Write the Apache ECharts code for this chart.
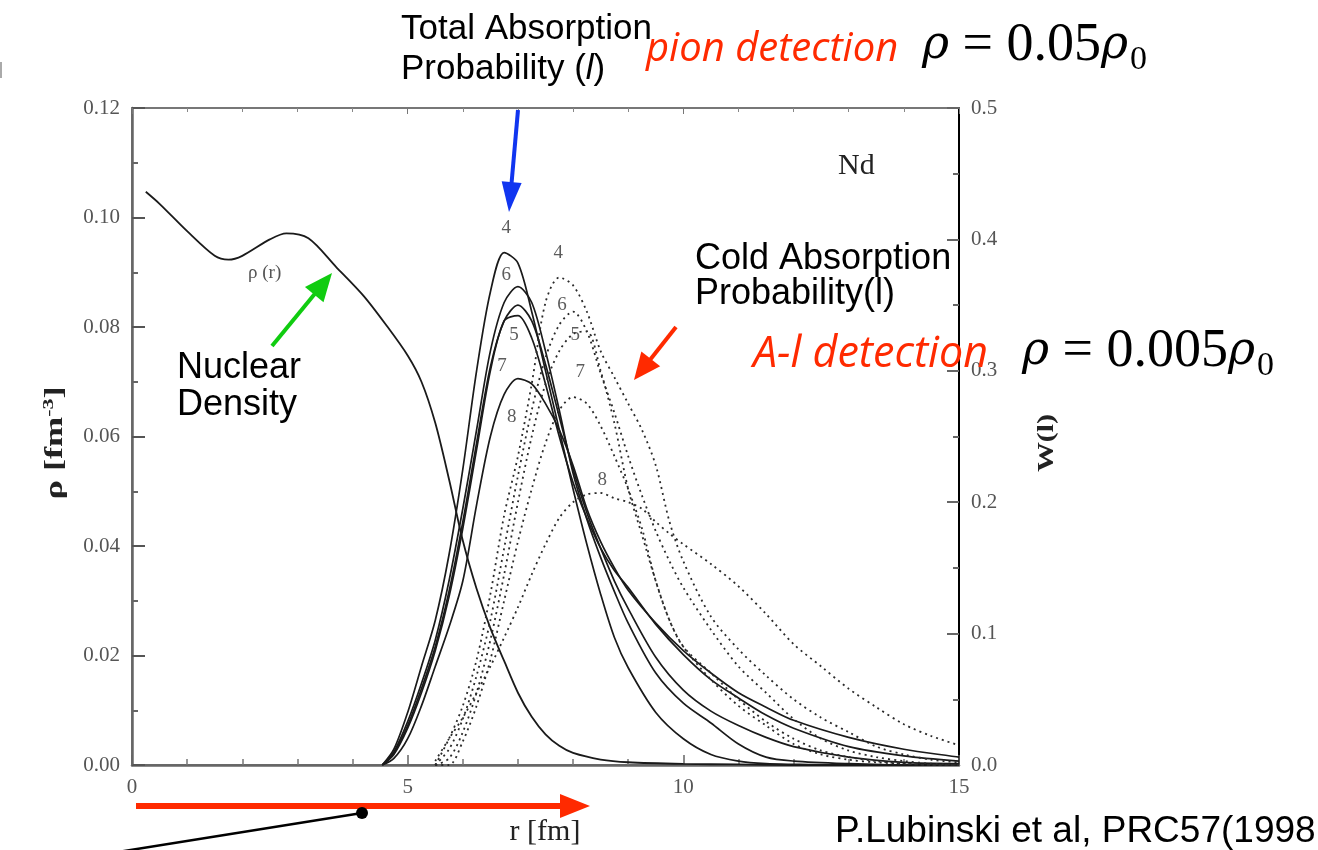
<!DOCTYPE html>
<html>
<head>
<meta charset="utf-8">
<script src="https://cdn.jsdelivr.net/npm/echarts@6/dist/echarts.min.js"></script>
<style>
html,body{margin:0;padding:0;background:#fff;}
#chart{width:1318px;height:850px;}
</style>
</head>
<body>
<div id="chart"></div>
<script>
// ---- data ----
const X_TICKS = [0, 5, 10, 15];
const RHO_TICKS = [0.00, 0.02, 0.04, 0.06, 0.08, 0.10, 0.12];
const W_TICKS = [0.0, 0.1, 0.2, 0.3, 0.4, 0.5];

// nuclear density rho(r) [fm^-3]
const R_DENS = [0.25, 0.5, 1.0, 1.5, 1.75, 2.0, 2.5, 2.8, 3.2, 3.7, 4.2, 4.6, 5.0, 5.25, 5.5, 5.75, 6.0, 6.25, 6.5, 6.75, 7.0, 7.25, 7.5, 7.75, 8.0, 8.5, 9.0, 10, 11, 12, 13, 14, 15];
const RHO = [0.1047, 0.1025, 0.0975, 0.0930, 0.0923, 0.0930, 0.0960, 0.0971, 0.0962, 0.0910, 0.0857, 0.0805, 0.0748, 0.0700, 0.0625, 0.0522, 0.0410, 0.0322, 0.0250, 0.0190, 0.0132, 0.0088, 0.0056, 0.0035, 0.0022, 0.0010, 0.0005, 0.0002, 0.0001, 0, 0, 0, 0];

// total absorption probability W(l)
const R_TOTAL = [4.54, 4.75, 5, 5.25, 5.5, 5.75, 6, 6.25, 6.5, 6.75, 7, 7.25, 7.5, 7.75, 8, 8.25, 8.5, 8.75, 9, 9.5, 10, 10.5, 11, 11.5, 12, 13, 14, 15];
const W_TOT_4 = [0, 0.012, 0.04, 0.075, 0.11, 0.16, 0.225, 0.30, 0.36, 0.39, 0.382, 0.345, 0.30, 0.255, 0.21, 0.168, 0.13, 0.097, 0.074, 0.04, 0.02, 0.008, 0.003, 0.001, 0.0005, 0, 0, 0];
const W_TOT_6 = [0, 0.01, 0.033, 0.062, 0.095, 0.14, 0.195, 0.255, 0.315, 0.352, 0.364, 0.352, 0.315, 0.27, 0.222, 0.187, 0.158, 0.132, 0.108, 0.07, 0.047, 0.032, 0.016, 0.006, 0.003, 0.001, 0, 0];
const W_TOT_5 = [0, 0.009, 0.03, 0.058, 0.09, 0.132, 0.185, 0.245, 0.303, 0.338, 0.35, 0.338, 0.305, 0.265, 0.225, 0.192, 0.165, 0.14, 0.119, 0.082, 0.057, 0.041, 0.03, 0.021, 0.014, 0.006, 0.002, 0.001];
const W_TOT_7 = [0, 0.008, 0.028, 0.055, 0.087, 0.128, 0.18, 0.24, 0.30, 0.338, 0.342, 0.325, 0.29, 0.25, 0.215, 0.188, 0.165, 0.148, 0.135, 0.107, 0.084, 0.065, 0.051, 0.038, 0.028, 0.014, 0.007, 0.003];
const W_TOT_8 = [0, 0.005, 0.02, 0.045, 0.075, 0.105, 0.14, 0.198, 0.25, 0.282, 0.294, 0.29, 0.275, 0.255, 0.228, 0.195, 0.17, 0.15, 0.133, 0.108, 0.087, 0.07, 0.055, 0.044, 0.034, 0.021, 0.012, 0.006];

// cold absorption probability W(l)
const R_COLD = [5.5, 5.75, 6, 6.25, 6.5, 6.75, 7, 7.25, 7.5, 7.75, 8, 8.25, 8.5, 8.75, 9, 9.25, 9.5, 9.75, 10, 10.5, 11, 11.5, 12, 12.5, 13, 13.5, 14, 14.5, 15];
const W_COLD_4 = [0, 0.02, 0.045, 0.08, 0.13, 0.19, 0.235, 0.29, 0.352, 0.371, 0.365, 0.345, 0.315, 0.295, 0.275, 0.255, 0.228, 0.185, 0.155, 0.113, 0.088, 0.068, 0.05, 0.036, 0.025, 0.014, 0.008, 0.004, 0.002];
const W_COLD_6 = [0, 0.012, 0.035, 0.068, 0.11, 0.165, 0.22, 0.27, 0.31, 0.335, 0.345, 0.33, 0.298, 0.268, 0.235, 0.205, 0.178, 0.155, 0.135, 0.103, 0.075, 0.055, 0.035, 0.02, 0.011, 0.006, 0.003, 0.001, 0];
const W_COLD_5 = [0, 0.005, 0.025, 0.055, 0.095, 0.145, 0.2, 0.25, 0.29, 0.315, 0.328, 0.33, 0.3, 0.26, 0.21, 0.175, 0.14, 0.11, 0.09, 0.065, 0.045, 0.03, 0.016, 0.008, 0.004, 0.002, 0.001, 0, 0];
const W_COLD_7 = [0, 0, 0.018, 0.045, 0.08, 0.125, 0.17, 0.21, 0.245, 0.27, 0.28, 0.275, 0.258, 0.235, 0.21, 0.18, 0.14, 0.11, 0.09, 0.07, 0.05, 0.033, 0.02, 0.011, 0.006, 0.003, 0.001, 0, 0];
const W_COLD_8 = [0.003, 0.02, 0.036, 0.055, 0.075, 0.097, 0.12, 0.145, 0.168, 0.188, 0.2, 0.206, 0.207, 0.203, 0.2, 0.195, 0.185, 0.176, 0.168, 0.153, 0.136, 0.115, 0.092, 0.075, 0.058, 0.044, 0.031, 0.022, 0.015];

// curve labels (l values) and where they sit [r, W]
const TOT_LABELS = ['4', '6', '5', '7', '8'];
const TOT_LABEL_POS = [[6.79, 0.409], [6.79, 0.373], [6.93, 0.327], [6.71, 0.304], [6.89, 0.265]];
const COLD_LABELS = ['4', '6', '5', '7', '8'];
const COLD_LABEL_POS = [[7.73, 0.39], [7.80, 0.35], [8.04, 0.327], [8.13, 0.299], [8.53, 0.217]];

// ---- chart ----
const zip = (xs, ys) => xs.map((x, i) => [x, ys[i]]);
const SERIF = '"Liberation Serif", "DejaVu Serif", serif';
const SANS = '"Liberation Sans", Arial, sans-serif';

function solid(data) {
  return { type: 'line', yAxisIndex: 1, data: data, showSymbol: false, smooth: 0.3,
    lineStyle: { color: '#1a1a1a', width: 1.7 }, silent: true, z: 3 };
}
function dotted(data) {
  return { type: 'line', yAxisIndex: 1, data: data, showSymbol: false, smooth: 0.3,
    lineStyle: { color: '#2a2a2a', width: 1.8, type: [2, 4] }, silent: true, z: 3 };
}
function labelSeries(names, pos) {
  return { type: 'scatter', yAxisIndex: 1, symbolSize: 0, silent: true, z: 5,
    data: pos.map((p, i) => ({ value: p, name: names[i] })),
    label: { show: true, position: 'inside', formatter: '{b}', color: '#333', fontFamily: SERIF, fontSize: 19 } };
}

function arrow(x1, y1, x2, y2, color, w, hl, hw) {
  const a = Math.atan2(y2 - y1, x2 - x1);
  const dx = Math.cos(a), dy = Math.sin(a);
  const bx = x2 - dx * hl, by = y2 - dy * hl;
  const px = -dy, py = dx;
  return [
    { type: 'line', shape: { x1: x1, y1: y1, x2: bx + dx * 2, y2: by + dy * 2 }, style: { stroke: color, lineWidth: w }, z: 20 },
    { type: 'polygon', shape: { points: [[x2, y2], [bx + px * hw / 2, by + py * hw / 2], [bx - px * hw / 2, by - py * hw / 2]] }, style: { fill: color }, z: 20 }
  ];
}
function txt(x, y, text, opts, extra) {
  return Object.assign({ type: 'text', x: x, y: y, z: 30,
    style: Object.assign({ text: text, fill: '#000', fontFamily: SANS, fontSize: 35, align: 'left', verticalAlign: 'middle' }, opts || {}) }, extra || {});
}
const mathRich = {
  r: { fontFamily: '"DejaVu Serif", serif', fontStyle: 'italic', fontSize: 46, fill: '#000' },
  n: { fontFamily: '"Liberation Serif", serif', fontSize: 54, fill: '#000' },
  s: { fontFamily: '"Liberation Serif", serif', fontSize: 34, fill: '#000', padding: [28, 0, 0, 2] }
};

const RED = '#ff2a00';
const graphics = [].concat(
  [
    txt(401, 29, 'Total Absorption', { fontSize: 35 }),
    txt(401, 69, '{a|Probability (}{i|l}{a|)}', { rich: { a: { fontFamily: SANS, fontSize: 35 }, i: { fontFamily: SANS, fontSize: 35, fontStyle: 'italic' } } }),
    txt(646, 50, 'pion detection', { fill: RED, fontFamily: '"Open Sans", sans-serif', fontStyle: 'italic', fontSize: 40 }),
    txt(922, 46, '{r|ρ}{n| = 0.05}{r|ρ}{s|0}', { rich: mathRich }),
    txt(838, 166, 'Nd', { fontFamily: SERIF, fontSize: 30, fill: '#222' }),
    txt(695, 259, 'Cold Absorption', { fontSize: 36 }),
    txt(695, 294, 'Probability(l)', { fontSize: 36 }),
    txt(753, 355, 'A-l detection', { fill: RED, fontFamily: '"Open Sans", sans-serif', fontStyle: 'italic', fontSize: 43 }),
    txt(1022, 352, '{r|ρ}{n| = 0.005}{r|ρ}{s|0}', { rich: mathRich }),
    txt(177, 368, 'Nuclear', { fontSize: 36 }),
    txt(177, 405, 'Density', { fontSize: 36 }),
    txt(248, 273, 'ρ (r)', { fontFamily: SERIF, fontSize: 19, fill: '#555' }),
    txt(835, 832, 'P.Lubinski et al, PRC57(1998', { fontSize: 37 }),
    txt(545, 832, 'r [fm]', { fontFamily: SERIF, fontSize: 30, align: 'center', fill: '#222' }),
    { type: 'text', x: 56, y: 443, rotation: Math.PI / 2, scaleX: 1.45, z: 30,
      style: { text: '{a|ρ [fm}{s|-3}{a|]}', align: 'center', verticalAlign: 'middle',
        rich: { a: { fontFamily: SERIF, fontSize: 25, fontWeight: 'bold', fill: '#222' }, s: { fontFamily: SERIF, fontSize: 15, fontWeight: 'bold', fill: '#222', padding: [0, 0, 14, 0] } } } },
    { type: 'text', x: 1047, y: 443, rotation: Math.PI / 2, scaleX: 1.3, z: 30,
      style: { text: 'W(l)', align: 'center', verticalAlign: 'middle', fontFamily: SERIF, fontSize: 23, fontWeight: 'bold', fill: '#222' } },
    { type: 'line', shape: { x1: 118, y1: 852, x2: 362, y2: 813 }, style: { stroke: '#000', lineWidth: 2.5 }, z: 20 },
    { type: 'circle', shape: { cx: 362, cy: 813, r: 6 }, style: { fill: '#000' }, z: 21 },
    { type: 'rect', shape: { x: 0, y: 62, width: 2, height: 16 }, style: { fill: '#aaa' }, z: 20 }
  ],
  arrow(518, 110, 509, 212, '#1035f0', 4, 30, 20),
  arrow(676, 327, 634, 380, RED, 4, 27, 24),
  arrow(272, 346, 332, 273, '#10cc10', 4, 28, 24),
  arrow(136, 806, 590, 806, RED, 6, 30, 24)
);

const chart = echarts.init(document.getElementById('chart'), null, { renderer: 'canvas' });
const axisLbl = { fontFamily: SERIF, fontSize: 21, color: '#555' };
chart.setOption({
  animation: false,
  backgroundColor: '#fff',
  grid: { left: 132, right: 359, top: 108, bottom: 85, show: true, borderColor: '#777', borderWidth: 2 },
  xAxis: [
    { type: 'value', min: X_TICKS[0], max: X_TICKS[X_TICKS.length - 1], interval: 5, position: 'bottom',
      axisLine: { show: true, onZero: false, lineStyle: { color: '#666', width: 2.5 } },
      axisTick: { show: true, inside: true, length: 10, lineStyle: { color: '#666', width: 1.5 } },
      minorTick: { show: true, splitNumber: 5, length: 6, lineStyle: { color: '#777', width: 1.5 } },
      axisLabel: Object.assign({ margin: 12 }, axisLbl), splitLine: { show: false } },
    { type: 'value', min: X_TICKS[0], max: X_TICKS[X_TICKS.length - 1], interval: 5, position: 'top',
      axisLine: { show: true, onZero: false, lineStyle: { color: '#777', width: 2 } },
      axisTick: { show: true, inside: true, length: 6, lineStyle: { color: '#777' } },
      minorTick: { show: true, splitNumber: 5, length: 4, lineStyle: { color: '#888' } },
      axisLabel: { show: false }, splitLine: { show: false } }
  ],
  yAxis: [
    { type: 'value', min: RHO_TICKS[0], max: RHO_TICKS[RHO_TICKS.length - 1], interval: 0.02, position: 'left',
      axisLine: { show: true, onZero: false, lineStyle: { color: '#666', width: 2.5 } },
      axisTick: { show: true, inside: true, length: 13, lineStyle: { color: '#555', width: 2 } },
      minorTick: { show: true, splitNumber: 2, length: 6, lineStyle: { color: '#666', width: 2 } },
      axisLabel: Object.assign({ margin: 12, formatter: v => v.toFixed(2) }, axisLbl), splitLine: { show: false } },
    { type: 'value', min: W_TICKS[0], max: W_TICKS[W_TICKS.length - 1], interval: 0.1, position: 'right',
      axisLine: { show: true, onZero: false, lineStyle: { color: '#000', width: 2 } },
      axisTick: { show: true, inside: true, length: 12, lineStyle: { color: '#666', width: 2 } },
      minorTick: { show: true, splitNumber: 2, length: 6, lineStyle: { color: '#666', width: 2 } },
      axisLabel: Object.assign({ margin: 12, formatter: v => v.toFixed(1) }, axisLbl), splitLine: { show: false } }
  ],
  series: [
    { type: 'line', yAxisIndex: 0, data: zip(R_DENS, RHO), showSymbol: false, smooth: 0.3,
      lineStyle: { color: '#1a1a1a', width: 1.8 }, silent: true, z: 3 },
    solid(zip(R_TOTAL, W_TOT_4)),
    solid(zip(R_TOTAL, W_TOT_6)),
    solid(zip(R_TOTAL, W_TOT_5)),
    solid(zip(R_TOTAL, W_TOT_7)),
    solid(zip(R_TOTAL, W_TOT_8)),
    dotted(zip(R_COLD, W_COLD_4)),
    dotted(zip(R_COLD, W_COLD_6)),
    dotted(zip(R_COLD, W_COLD_5)),
    dotted(zip(R_COLD, W_COLD_7)),
    dotted(zip(R_COLD, W_COLD_8)),
    labelSeries(TOT_LABELS, TOT_LABEL_POS),
    labelSeries(COLD_LABELS, COLD_LABEL_POS)
  ],
  graphic: graphics
});
</script>
</body>
</html>
